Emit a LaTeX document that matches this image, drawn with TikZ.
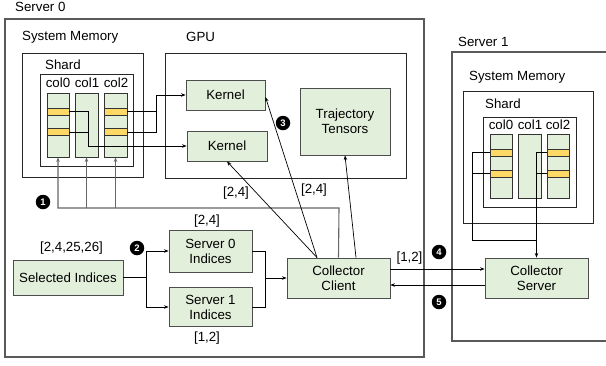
\documentclass[tikz,border=0pt]{standalone}
\usepackage{fontspec}
\setmainfont{Liberation Sans}
\usetikzlibrary{arrows.meta}
\definecolor{gfill}{HTML}{E2EFDA}
\definecolor{yband}{HTML}{FFD966}
\definecolor{bord}{HTML}{4D4D4D}
\begin{document}
\begin{tikzpicture}[x=1pt,y=-1pt,
  txt/.style={inner sep=0pt, font=\fontsize{13.3}{15}\selectfont},
  gbox/.style={draw=bord, fill=gfill, line width=0.9pt, align=center, inner sep=0pt, font=\fontsize{13.3}{15}\selectfont},
  cont/.style={draw=black!85, line width=0.9pt, inner sep=0pt},
  srv/.style={draw=black!65, line width=1.3pt, inner sep=0pt},
  colr/.style={draw=black!80, fill=gfill, line width=0.8pt, minimum height=64pt, inner sep=0pt},
  band/.style={draw=black!80, fill=yband, line width=0.8pt, minimum height=7pt, inner sep=0pt},
  num/.style={circle, fill=black, text=white, font=\bfseries\fontsize{9.5}{9.5}\selectfont, inner sep=0pt, minimum size=14.5pt},
  conn/.style={line width=0.7pt, draw=black},
  arr/.style={conn, -{Stealth[length=4.5pt,width=3.5pt]}},
  bus/.style={line width=1.1pt, draw=black!60},
  busarr/.style={bus, -{Stealth[length=4.5pt,width=3.5pt]}}]
\useasboundingbox (0,0) rectangle (606,365);

% ---------- Server 0 ----------
\node[srv, minimum width=419pt, minimum height=338pt] (srv0) at (214.5,188) {};
\node[txt, anchor=west] (srv0l) at (15,7) {Server 0};

\node[cont, minimum width=121pt, minimum height=124pt] (sm0) at (82.5,115) {};
\node[txt, anchor=west] (sm0l) at (22,37) {System Memory};
\node[cont, minimum width=93pt, minimum height=92pt] (sh0) at (86.5,120) {};
\node[txt, anchor=west] (sh0l) at (45,65) {Shard};
\node[txt] (c0l) at (58,83) {col0};
\node[txt] (c1l) at (87,83) {col1};
\node[txt] (c2l) at (116,83) {col2};
\node[colr, minimum width=22pt] (c0) at (58,125) {};
\node[colr, minimum width=23pt] (c1) at (86.5,125) {};
\node[colr, minimum width=23pt] (c2) at (115.5,125) {};
\node[band, minimum width=22pt] (b0a) at (58,111.5) {};
\node[band, minimum width=22pt] (b0b) at (58,132) {};
\node[band, minimum width=23pt] (b2a) at (115.5,111.5) {};
\node[band, minimum width=23pt] (b2b) at (115.5,132) {};

\node[cont, minimum width=241pt, minimum height=125pt] (gpu) at (285.5,115.5) {};
\node[txt, anchor=west] (gpul) at (186,37) {GPU};
\node[gbox, minimum width=79pt, minimum height=30pt] (k1) at (225.5,95) {Kernel};
\node[gbox, minimum width=80pt, minimum height=30pt] (k2) at (227,146) {Kernel};
\node[gbox, minimum width=90pt, minimum height=67pt] (tt) at (345,121.5) {Trajectory\\Tensors};

\node[gbox, minimum width=110pt, minimum height=35pt] (sel) at (68,277.5) {Selected Indices};
\node[gbox, minimum width=83pt, minimum height=42pt] (s0i) at (210.5,251) {Server 0\\Indices};
\node[gbox, minimum width=83pt, minimum height=39pt] (s1i) at (210.5,307) {Server 1\\Indices};
\node[gbox, minimum width=103pt, minimum height=40pt] (cc) at (338.5,278) {Collector\\Client};

\node[txt] (l1) at (71.5,248) {[2,4,25,26]};
\node[txt] (l2) at (207,221) {[2,4]};
\node[txt] (l3) at (207,338) {[1,2]};
\node[txt] (l4) at (236,193) {[2,4]};
\node[txt] (l5) at (314,190) {[2,4]};
\node[txt] (l6) at (409.5,258) {[1,2]};

% ---------- Server 1 ----------
\draw[srv] (612,52) -| (452,341) -- (612,341);
\node[txt, anchor=west] (srv1l) at (458,42) {Server 1};
\node[cont, minimum width=130pt, minimum height=132pt] (sm1) at (528,157) {};
\node[txt, anchor=west] (sm1l) at (469,77) {System Memory};
\node[cont, minimum width=93pt, minimum height=90pt] (sh1) at (529.5,162) {};
\node[txt, anchor=west] (sh1l) at (485,104) {Shard};
\node[txt] (d0l) at (501,125) {col0};
\node[txt] (d1l) at (530,125) {col1};
\node[txt] (d2l) at (558,125) {col2};
\node[colr, minimum width=22pt] (d0) at (501,166) {};
\node[colr, minimum width=23pt] (d1) at (529.5,166) {};
\node[colr, minimum width=22pt] (d2) at (558,166) {};
\node[band, minimum width=22pt] (e0a) at (501,152.5) {};
\node[band, minimum width=22pt] (e0b) at (501,173.5) {};
\node[band, minimum width=22pt] (e2a) at (558,152.5) {};
\node[band, minimum width=22pt] (e2b) at (558,173.5) {};
\node[gbox, minimum width=103pt, minimum height=40pt] (cs) at (536.5,278) {Collector\\Server};

% ---------- step numbers ----------
\node[num] (n1) at (43,202) {1};
\node[num] (n2) at (137,248) {2};
\node[num] (n3) at (283,123) {3};
\node[num] (n4) at (439,252) {4};
\node[num] (n5) at (439,302) {5};

% ---------- connectors ----------
% shard columns to kernels
\coordinate (j2) at (156,111.5);
\coordinate (j0) at (88,111.5);
\draw[arr] (b2a.east) -- (j2) |- (k1.west);
\draw[conn] (b2b.east) -| (j2);
\draw[arr] (b0a.east) -- (j0) |- (k2.west);
\draw[conn] (b0b.east) -| (j0);

% client to shard columns (bus)
\coordinate (bus) at (339,208);
\draw[busarr] (cc.north) -- (bus) -| (c0.south);
\draw[busarr] (c1.south |- bus) -- (c1.south);
\draw[busarr] (c2.south |- bus) -- (c2.south);

% client to kernels and tensors
\draw[arr] ([xshift=-21.5pt]cc.north) -- ([yshift=-2pt]k1.east);
\draw[arr] ([xshift=-21.5pt]cc.north) -- (k2.south);
\draw[arr] ([xshift=17.5pt]cc.north) -- (tt.south);

% index split
\coordinate (sp) at (146,277.5);
\draw[conn] (sel.east) -- (sp);
\draw[arr] (sp) |- (s0i.west);
\draw[arr] (sp) |- (s1i.west);
\coordinate (mg) at (265,278);
\draw[conn] (s0i.east) -| (mg);
\draw[conn] (s1i.east) -| (mg);
\draw[arr] (mg) -- (cc.west);

% client <-> server
\draw[arr] ([yshift=9pt]cc.east) -- ([yshift=9pt]cs.west);
\draw[arr] ([yshift=-7pt]cs.west) -- ([yshift=-7pt]cc.east);

% server 1 shard to collector server
\coordinate (q0) at (472,152.5);
\coordinate (q2) at (536.5,152.5);
\coordinate (qb) at (472,240);
\draw[conn] (e0a.west) -- (q0) -- (qb) -- (qb -| q2);
\draw[conn] (e0b.west) -- (q0 |- e0b.west);
\draw[arr] (e2a.west) -- (q2) -- (cs.north);
\draw[conn] (e2b.west) -- (q2 |- e2b.west);
\end{tikzpicture}
\end{document}
